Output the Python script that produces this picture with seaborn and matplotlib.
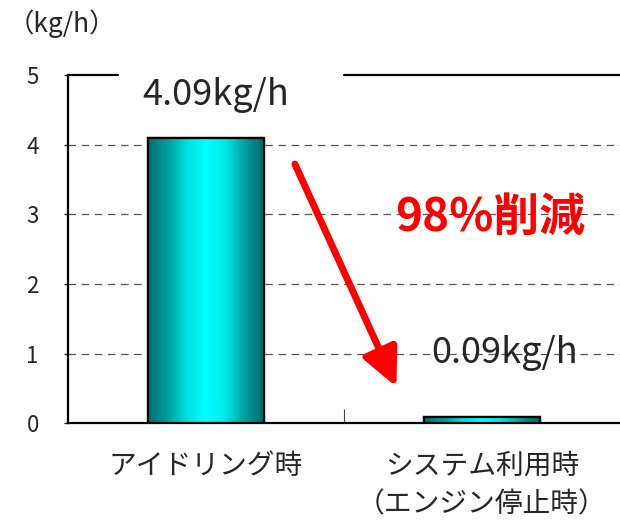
import matplotlib.pyplot as plt
import matplotlib.colors as mcolors
import seaborn as sns
import pandas as pd
import numpy as np

# data
categories = ["アイドリング時", "システム利用時\n（エンジン停止時）"]
values = [4.09, 0.09]
value_labels = ["4.09kg/h", "0.09kg/h"]
reduction_label = "98%削減"
unit_label = "（kg/h）"
y_ticks = [0, 1, 2, 3, 4, 5]

df = pd.DataFrame({"category": categories, "value": values})

sns.set_style("white")
plt.rcParams['font.family'] = ['Noto Sans CJK JP', 'DejaVu Sans']

fig = plt.figure(figsize=(6.2, 5.27), dpi=100)
ax = fig.add_axes([0.1097, 0.197, 0.8903, 0.661])

sns.barplot(data=df, x="category", y="value", ax=ax, width=0.42,
            color="#00c0c0", edgecolor="black", linewidth=1.6, zorder=3)

ax.set_xlim(-0.5, 1.5)
ax.set_ylim(0, 5)

# cylinder-like gradient on bars
grad_cmap = mcolors.LinearSegmentedColormap.from_list(
    "cyl", ["#007070", "#009c9c", "#00e0e0", "#00ffff", "#00e8e8", "#00a0a0", "#006868"])
grad = np.linspace(0, 1, 256).reshape(1, -1)
for patch in ax.patches:
    x0, y0 = patch.get_x(), patch.get_y()
    w, h = patch.get_width(), patch.get_height()
    im = ax.imshow(grad, cmap=grad_cmap, aspect="auto",
                   extent=[x0, x0 + w, y0, y0 + h], zorder=3.5)
    im.set_clip_path(patch)
    p2 = plt.Rectangle((x0, y0), w, h, fill=False, edgecolor="black",
                       linewidth=1.6, zorder=4)
    ax.add_patch(p2)
ax.set_xlim(-0.5, 1.5)
ax.set_ylim(0, 5)

# grid
for t in y_ticks[1:-1]:
    ax.axhline(t, color="#555555", linewidth=0.9, linestyle=(0, (6, 4.5)), zorder=1)

# spines
for s in ["top", "right"]:
    ax.spines[s].set_visible(False)
ax.spines["left"].set_linewidth(1.6)
ax.spines["bottom"].set_linewidth(1.6)
ax.spines["left"].set_color("black")
ax.spines["bottom"].set_color("black")
# broken top line
ax.plot([-0.5, -0.32], [5, 5], color="black", linewidth=1.6, clip_on=False, zorder=5)
ax.plot([0.5, 1.5], [5, 5], color="black", linewidth=1.6, clip_on=False, zorder=5)

ax.set_yticks(y_ticks)
ax.set_yticklabels([str(t) for t in y_ticks], fontsize=16)
ax.tick_params(axis="y", direction="out", length=3, width=1, pad=18, left=True)
ax.set_xticks(range(len(categories)))
ax.set_xticklabels(categories, fontsize=20, linespacing=1.35)
ax.tick_params(axis="x", length=0, pad=20)
ax.set_xticks([0.5], minor=True)
ax.tick_params(axis="x", which="minor", direction="in", length=10, width=0.8,
               color="#444444", bottom=True)
ax.set_xlabel("")
ax.set_ylabel("")

# value labels
label_offsets = [(0.035, 0.62), (0.08, 0.92)]
for i, (v, lab) in enumerate(zip(values, value_labels)):
    dx, dy = label_offsets[i]
    ax.text(i + dx, v + dy, lab, ha="center", va="center", fontsize=26, zorder=6)

# reduction arrow and text
ax.annotate("", xy=(0.69, 0.52), xytext=(0.322, 3.72),
            arrowprops=dict(arrowstyle="-|>,head_length=2.3,head_width=1.1",
                            color="#ff0000", linewidth=5, shrinkA=0, shrinkB=0),
            zorder=6)
ax.text(1.03, 2.95, reduction_label, ha="center", va="center", fontsize=33,
        fontweight="bold", color="#ff0000", zorder=6)

fig.text(0.012, 0.955, unit_label, ha="left", va="center", fontsize=19)

fig.savefig("out.png", dpi=100)
